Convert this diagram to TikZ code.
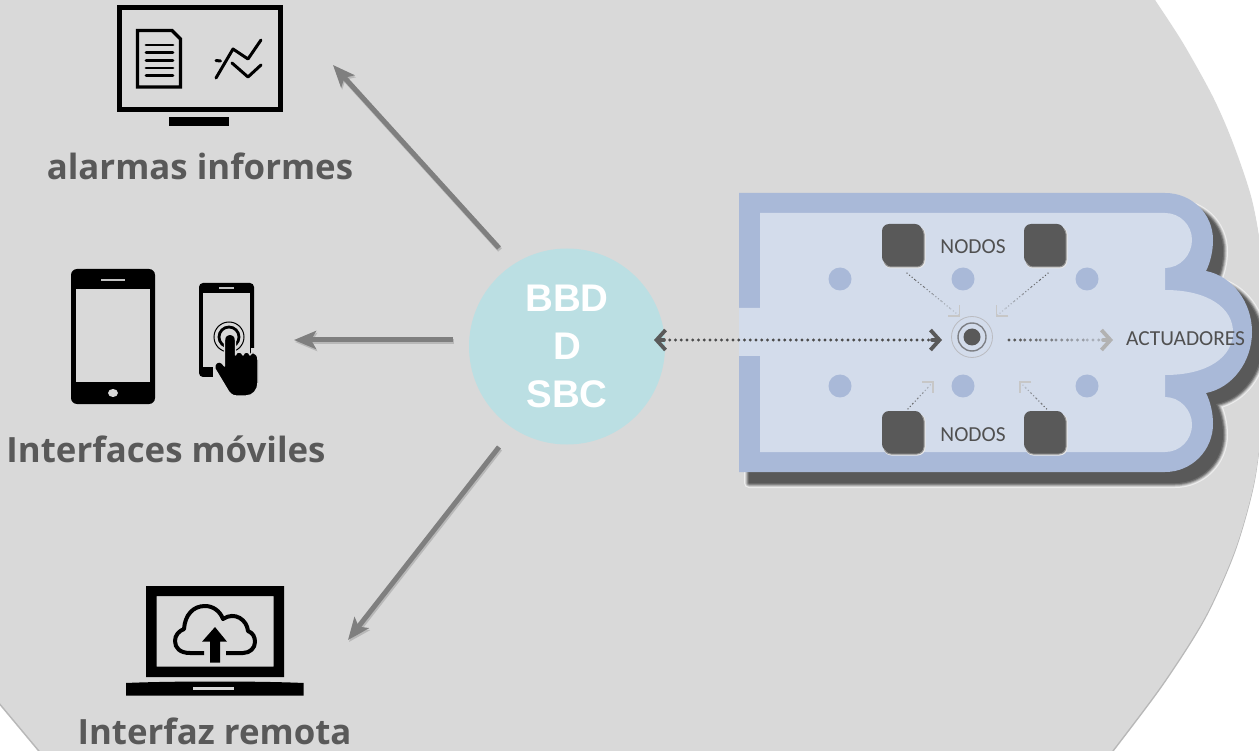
\documentclass[tikz,border=0pt]{standalone}
\usepackage{fontspec}
\usetikzlibrary{arrows.meta,calc}
\setmainfont{Liberation Sans}
\newfontfamily\lblfont{Open Sans}
\newfontfamily\calfont{Carlito}
\definecolor{bggrey}{HTML}{D9D9D9}
\definecolor{blueout}{HTML}{A9B9D8}
\definecolor{bluein}{HTML}{D3DCEB}
\definecolor{darkg}{HTML}{595959}
\definecolor{arrowg}{HTML}{7F7F7F}
\definecolor{teal}{HTML}{BBDFE3}
\newcommand\bgpath{(-5,-5) -- (1155,-5) -- plot[smooth] coordinates {(1155,0) (1183,43) (1213,97) (1233,143) (1252,200) (1262,260) (1266,340) (1262,420) (1254,483) (1235,550) (1205,617) (1163,683) (1112,751) (1105,760)} -- (47,760) -- (40,751) -- (0,703) -- (-5,697) -- cycle}
\newcommand\outerpath{(739,193) -- (1165,193) .. controls (1192,193) and (1213,214) .. (1213,240) .. controls (1213,252) and (1210,263) .. (1206,271) .. controls (1232,276) and (1252,302) .. (1252,332) .. controls (1252,362) and (1232,388) .. (1206,393) .. controls (1210,401) and (1213,412) .. (1213,424) .. controls (1213,450) and (1192,472) .. (1165,472) -- (739,472) -- cycle}
\newcommand\innerpath{(739,308) -- (760,308) -- (760,213) -- (1165,213) .. controls (1180,213) and (1192,225) .. (1192,240) .. controls (1192,255) and (1180,268) .. (1165,268) -- (1165,290) .. controls (1208,290) and (1233,308) .. (1233,332) .. controls (1233,357) and (1208,375) .. (1165,375) -- (1165,397) .. controls (1180,397) and (1192,410) .. (1192,424.5) .. controls (1192,440) and (1180,452) .. (1165,452) -- (760,452) -- (760,356) -- (739,356) -- cycle}
\newcommand\fadeline[6]{%
  \foreach \k in {0,...,#5}{%
    \pgfmathsetmacro\sa{\k/(#5+1)}%
    \pgfmathsetmacro\sb{(\k+1)/(#5+1)}%
    \pgfmathsetmacro\pc{#3+(#4-#3)*\k/#5}%
    \draw[#6,draw=darkg!\pc!bluein] ($(#1)!\sa!(#2)$) -- ($(#1)!\sb!(#2)$);
  }}
\tikzset{
  x=1pt,y=-1pt,
  bigarrow/.style={draw=arrowg,line width=5pt,-{Stealth[length=22pt,width=18pt,inset=5pt]}},
  bigshadow/.style={draw=black!30!bggrey,line width=5pt,-{Stealth[length=22pt,width=18pt,inset=5pt]},opacity=.5},
  lbl/.style={font=\lblfont\bfseries\fontsize{34.8}{40}\selectfont,text=darkg,inner sep=0pt},
  cal/.style={font=\calfont\fontsize{21.4}{24}\selectfont,text=darkg!90!black,inner sep=0pt},
  dotsbig/.style={line width=3.3pt,line cap=round,dash pattern=on 0pt off 5.75pt},
  dotssm/.style={line width=1.5pt,line cap=round,dash pattern=on 0pt off 3.3pt},
  barbbig/.style={line width=3.6pt,line cap=round,-{Straight Barb[length=9pt,width=20pt,line width=3.8pt]}},
  sq/.style={rectangle,rounded corners=7pt,minimum width=40pt,minimum height=40pt,inner sep=0pt,fill=darkg,
    preaction={draw=bggrey!60!white,line width=2pt,fill=bggrey,transform canvas={xshift=2.5pt,yshift=-3.5pt}},
    preaction={draw=darkg!55!bggrey,line width=1pt,fill=darkg,transform canvas={xshift=2pt,yshift=-3pt}}},
  bdot/.style={circle,fill=blueout,minimum size=23pt,inner sep=0pt},
}
\begin{document}
\begin{tikzpicture}
\useasboundingbox (0,0) rectangle (1259,751);
\fill[white] (0,0) rectangle (1259,751);
\begin{scope}
\clip (0,0) rectangle (1259,751);
\fill[black!28,shift={(0,2.5)}] \bgpath;
\fill[bggrey] \bgpath;
\end{scope}

% plant shadow
\begin{scope}
\clip (0,0) rectangle (1259,751);
\begin{scope}[shift={(10,11)}]
\draw[line width=10pt,draw=bggrey!45!white,line join=round] \outerpath;
\draw[line width=8pt,draw=bggrey,line join=round] \outerpath;
\draw[line width=6.5pt,draw=darkg!25!bggrey,line join=round] \outerpath;
\draw[line width=4.5pt,draw=darkg!55!bggrey,line join=round] \outerpath;
\draw[line width=2.5pt,draw=darkg!85!bggrey,line join=round] \outerpath;
\fill[darkg] \outerpath;
\end{scope}
\end{scope}
\fill[blueout] \outerpath;
\fill[bluein] \innerpath;

% blue dots
\foreach \x/\n in {840/a,963/b,1087/c}{
  \node[bdot] (dt\n) at (\x,279) {};
  \node[bdot] (db\n) at (\x,386) {};
}
% node squares
\node[sq] (ntl) at (902,244) {};
\node[sq] (ntr) at (1044,244) {};
\node[sq] (nbl) at (902,431) {};
\node[sq] (nbr) at (1044,431) {};
\node[cal] (ltop) at (973,247) {NODOS};
\node[cal] (lbot) at (973,435) {NODOS};
\node[cal,anchor=west] (lact) at (1126,339) {ACTUADORES};

% centre target
\node[circle,draw=black!12!bluein!90!brown,line width=.8pt,minimum size=41pt,inner sep=0pt] (ring) at (972,337) {};
\node[circle,draw=darkg!70!bluein,line width=1.4pt,minimum size=28pt,inner sep=0pt] (ring2) at (972,337) {};
\node[circle,fill=darkg,minimum size=17pt,inner sep=0pt] (core) at (972,337) {};

% central circle
\node[circle,fill=teal,minimum size=196pt,inner sep=0pt,align=center,text=white,
  font=\bfseries\fontsize{38.5}{48}\selectfont] (sbc) at (567,346.5) {BBD\\D\\SBC};

% dotted connectors
\coordinate (mL) at (654,340);
\coordinate (mLb) at (664,340);
\coordinate (mR) at (942,340);
\coordinate (mRb) at (932,340);
\draw[dotsbig,draw=darkg!85!black] (mLb) -- (mRb);
\draw[barbbig,draw=darkg] (mLb) -- (mL);
\draw[barbbig,draw=darkg] (mRb) -- (mR);
\coordinate (aS) at (1009,340);
\coordinate (aB) at (1103,340);
\coordinate (aT) at (1113,340);
\fadeline{aS}{aB}{100}{35}{5}{dotsbig}
\draw[barbbig,draw=black!30] (aB) -- (aT);

% small arrows
\coordinate (t1) at (959.5,316);
\coordinate (t2) at (996.5,316);
\coordinate (t3) at (933,382);
\coordinate (t4) at (1020,382);
\coordinate (s1) at ($(ntl.south)+(5,9)$);
\coordinate (s2) at ($(ntr.south)+(4,9)$);
\coordinate (s3) at ($(nbl.north)+(6,-2)$);
\coordinate (s4) at ($(nbr.north)+(2.5,-2)$);
\fadeline{s1}{t1}{95}{25}{5}{dotssm}
\fadeline{s2}{t2}{95}{25}{5}{dotssm}
\fadeline{s3}{t3}{95}{25}{4}{dotssm}
\fadeline{s4}{t4}{95}{25}{4}{dotssm}
\draw[black!22,line width=1.3pt] (948,316) -- (959.5,316) -- (959.5,305);
\draw[black!22,line width=1.3pt] (1008,316) -- (996.5,316) -- (996.5,305);
\draw[black!22,line width=1.3pt] (922,382) -- (933,382) -- (933,393);
\draw[black!22,line width=1.3pt] (1031,382) -- (1020,382) -- (1020,393);

% big arrows
\coordinate (uS) at (499,248);
\coordinate (uT) at (333,65);
\coordinate (mS) at (453,340);
\coordinate (mT) at (294,340);
\coordinate (lS) at (499,447);
\coordinate (lT) at (348,640);
\foreach \a/\b in {uS/uT,mS/mT,lS/lT}{
  \draw[bigshadow] ($(\a)+(1,2)$) -- ($(\b)+(1,2)$);
  \draw[bigarrow] (\a) -- (\b);
}

% monitor icon
\draw[line width=5pt] (119.5,7.5) rectangle (280.5,109.5);
\fill (169,117) rectangle (229,126);
\draw[line width=3.4pt,line join=miter] (137.5,30.5) -- (172,30.5) -- (180.5,39) -- (180.5,87) -- (137.5,87) -- cycle;
\foreach \y in {45,52.7,60.3,68,75.7}{\draw[line width=2.8pt,line cap=round] (146,\y) -- (173,\y);}
\draw[line width=3pt,line cap=round,line join=round] (216,78) -- (233,49) -- (248,59) -- (261,40);
\draw[line width=3pt,line cap=round,line join=round] (232,63) -- (248,77) -- (261,65);
\draw[line width=3pt,line cap=round] (216,60.5) -- (220.5,61);

% tablet icon
\fill[rounded corners=6pt] (71,269) rectangle (155,404);
\fill[bggrey] (76,289) rectangle (150,382);
\draw[bggrey!90!black,line width=1.8pt] (101,280) -- (125,280);
\fill[bggrey] (113,393) ellipse (5 and 4);

% phone icon
\fill[rounded corners=4pt] (199,283) rectangle (254,377);
\fill[bggrey] (203,293) rectangle (250,367);
\fill[bggrey] (213,367.5) rectangle (258,380);
\fill[bggrey] (250.5,348) rectangle (258,370);
\draw[bggrey!90!black,line width=1.4pt] (219,288) -- (234,288);
\draw[line width=1pt] (229,337) circle (15);
\draw[line width=2.8pt] (229,337) circle (10);
\draw[bggrey,line width=1.4pt,fill=black,line join=round]
  (224.5,340) .. controls (224.5,332) and (235.5,332) .. (235.5,340) -- (235.5,355)
  .. controls (236,351) and (242,351) .. (243,355)
  .. controls (244,351) and (249,351) .. (250,355)
  .. controls (251,351) and (258,352) .. (258,360) -- (258,383)
  .. controls (258,390) and (253,396) .. (246,396) -- (236,396)
  .. controls (232,396) and (229,393) .. (227,389) -- (215,369)
  .. controls (213,363) and (219,360) .. (222,363) -- (224.5,366) -- cycle;

% laptop icon
\fill[even odd rule] (146,586) rectangle (284,677) (156.7,596) rectangle (273.7,666.7);
\fill (126,683) .. controls (170,681) and (260,681) .. (303.7,683) -- (303.7,695.7) -- (126,695.7) -- cycle;
\draw[bggrey,line width=2.2pt] (193,688.5) -- (234,688.5);
\draw[line width=4pt,line join=round,line cap=butt] (204,653) -- (190,653)
  .. controls (180,653) and (175,648) .. (175,641)
  .. controls (175,635) and (179,631) .. (184,629)
  .. controls (185,615) and (193,606) .. (205,606)
  .. controls (213,606) and (220,611) .. (223,619)
  .. controls (235,611) and (247,620) .. (248,631)
  .. controls (253,633) and (255,637) .. (255,642)
  .. controls (255,648) and (250,653) .. (243,653) -- (226,653);
\fill (210,662.7) -- (210,641.7) -- (202,641.7) -- (215,627) -- (227,641.7) -- (220,641.7) -- (220,662.7) -- cycle;

% labels
\node[lbl] (la) at (200,166) {alarmas informes};
\node[lbl] (lb) at (166,449) {Interfaces móviles};
\node[lbl] (lc) at (214.5,731) {Interfaz remota};
\end{tikzpicture}
\end{document}
